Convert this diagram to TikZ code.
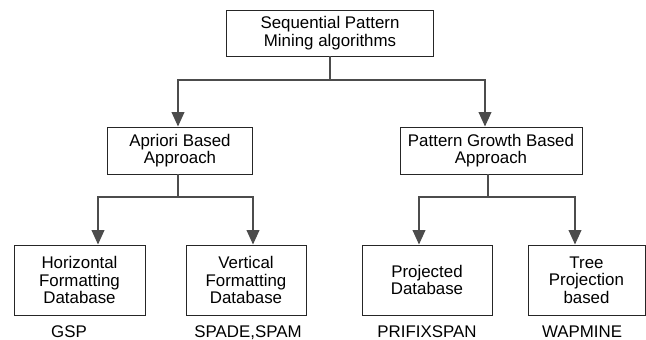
\documentclass[tikz,border=0pt]{standalone}
\usepackage{fontspec}
\setmainfont{Liberation Sans}
\usetikzlibrary{arrows.meta}
\begin{document}
\begin{tikzpicture}[x=0.025cm, y=-0.025cm, align=center, font=\fontsize{12}{12.4}\selectfont,
  box/.style={draw=black!85, line width=0.7pt, inner sep=0pt},
  algo/.style={inner sep=0pt, anchor=base},
  link/.style={draw=black!70, line width=0.8pt},
  arr/.style={link, -{Triangle[length=0.36cm, width=0.32cm]}}]
\useasboundingbox (0,0) rectangle (646,340);

% Root
\node[box, minimum width=207*0.025cm, minimum height=46*0.025cm] (root) at (330,33) {Sequential Pattern\\ Mining algorithms};

% Approaches
\node[box, minimum width=145*0.025cm, minimum height=47*0.025cm] (apriori) at (180,150.5) {Apriori Based\\ Approach};
\node[box, minimum width=182*0.025cm, minimum height=47*0.025cm] (growth) at (491,150.5) {Pattern Growth Based\\ Approach};

% Databases
\node[box, minimum width=131*0.025cm, minimum height=70*0.025cm] (horiz) at (79.5,280) {Horizontal\\ Formatting\\ Database};
\node[box, minimum width=120*0.025cm, minimum height=70*0.025cm] (vert) at (246,280) {Vertical\\ Formatting\\ Database};
\node[box, minimum width=130*0.025cm, minimum height=70*0.025cm] (proj) at (427,280) {Projected\\ Database};
\node[box, minimum width=117*0.025cm, minimum height=70*0.025cm] (tree) at (586.5,280) {Tree\\ Projection\\ based};

% Algorithms
\node[algo] (gsp) at (69,338) {GSP};
\node[algo] (spade) at (248,338) {SPADE,SPAM};
\node[algo] (prefix) at (427,338) {PRIFIXSPAN};
\node[algo] (wap) at (582,338) {WAPMINE};

% Junctions
\coordinate (j0) at (330,80);
\coordinate (j1) at (178,197);
\coordinate (j2) at (488,197);

% Connectors
\draw[link] (root.south) -- (j0);
\draw[arr] (j0) -| ([xshift=-2*0.025cm]apriori.north);
\draw[arr] (j0) -| ([xshift=-6*0.025cm]growth.north);
\draw[link] ([xshift=-2*0.025cm]apriori.south) -- (j1);
\draw[arr] (j1) -| ([xshift=18.5*0.025cm]horiz.north);
\draw[arr] (j1) -| ([xshift=7*0.025cm]vert.north);
\draw[link] ([xshift=-3*0.025cm]growth.south) -- (j2);
\draw[arr] (j2) -| ([xshift=-8*0.025cm]proj.north);
\draw[arr] (j2) -| ([xshift=-11.5*0.025cm]tree.north);

\end{tikzpicture}
\end{document}
